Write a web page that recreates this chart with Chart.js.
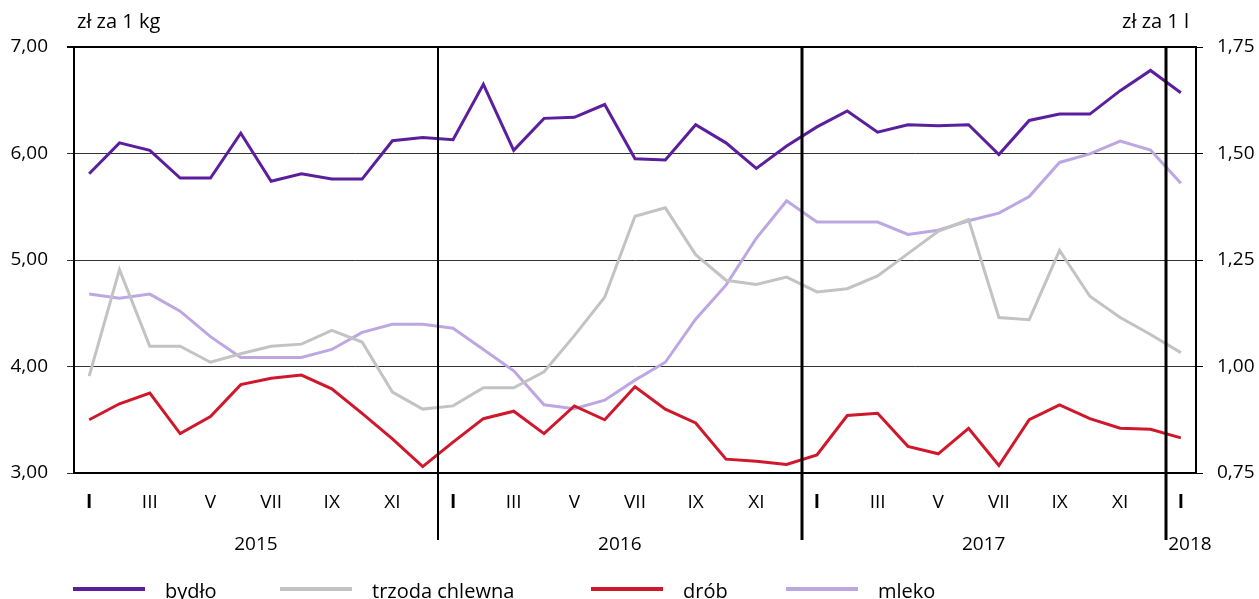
<!DOCTYPE html>
<html lang="pl">
<head>
<meta charset="utf-8">
<title>Ceny skupu</title>
<script src="https://cdn.jsdelivr.net/npm/chart.js@4.4.1/dist/chart.umd.min.js"></script>
<style>
  html, body { margin: 0; padding: 0; background: #fff; }
  canvas { display: block; }
</style>
</head>
<body>
<canvas id="chart" width="1259" height="599"></canvas>
<script>
const monthNames = ['I', 'II', 'III', 'IV', 'V', 'VI', 'VII', 'VIII', 'IX', 'X', 'XI', 'XII'];
const years = ['2015', '2016', '2017', '2018'];
// 36 months 2015-2017 plus January 2018
const categories = [...monthNames, ...monthNames, ...monthNames, 'I'];
const yearTicks = [5.5, 17.5, 29.5, 36.3];
const yearBreaks = [11.5, 23.5, 35.5];

// zł za 1 kg
const bydlo = [5.81, 6.10, 6.03, 5.77, 5.77, 6.19, 5.74, 5.81, 5.76, 5.76, 6.12, 6.15,
               6.13, 6.65, 6.03, 6.33, 6.34, 6.46, 5.95, 5.94, 6.27, 6.10, 5.86, 6.07,
               6.25, 6.40, 6.20, 6.27, 6.26, 6.27, 5.99, 6.31, 6.37, 6.37, 6.59, 6.78,
               6.57];
const trzoda = [3.91, 4.91, 4.19, 4.19, 4.04, 4.12, 4.19, 4.21, 4.34, 4.23, 3.76, 3.60,
                3.63, 3.80, 3.80, 3.95, 4.29, 4.65, 5.41, 5.49, 5.05, 4.81, 4.77, 4.84,
                4.70, 4.73, 4.85, 5.06, 5.27, 5.38, 4.46, 4.44, 5.09, 4.66, 4.46, 4.30,
                4.13];
const drob = [3.50, 3.65, 3.75, 3.37, 3.53, 3.83, 3.89, 3.92, 3.79, 3.56, 3.32, 3.06,
              3.29, 3.51, 3.58, 3.37, 3.63, 3.50, 3.81, 3.60, 3.47, 3.13, 3.11, 3.08,
              3.17, 3.54, 3.56, 3.25, 3.18, 3.42, 3.07, 3.50, 3.64, 3.51, 3.42, 3.41,
              3.33];
// zł za 1 l
const mleko = [1.170, 1.160, 1.170, 1.130, 1.070, 1.021, 1.021, 1.021, 1.040, 1.080, 1.099, 1.099,
               1.090, 1.040, 0.990, 0.910, 0.901, 0.921, 0.968, 1.010, 1.111, 1.191, 1.301, 1.389,
               1.339, 1.339, 1.339, 1.310, 1.320, 1.342, 1.360, 1.399, 1.479, 1.499, 1.529, 1.508,
               1.430];

const FONT = 'Open Sans';
const fmt = v => v.toFixed(2).replace('.', ',');

Chart.defaults.font.family = FONT;
Chart.defaults.font.size = 19;
Chart.defaults.color = '#000';

// year separators, unit titles and the legend
const extras = {
    id: 'extras',
    afterDraw(chart) {
        const ctx = chart.ctx;
        const x = chart.scales.x;
        const area = chart.chartArea;
        ctx.save();

        ctx.strokeStyle = '#000';
        yearBreaks.forEach((b, i) => {
            const px = Math.round(x.getPixelForValue(b));
            ctx.lineWidth = i === 0 ? 2 : 3;
            ctx.beginPath();
            ctx.moveTo(px, area.top);
            ctx.lineTo(px, 540);
            ctx.stroke();
        });

        ctx.fillStyle = '#000';
        ctx.font = `20px "${FONT}"`;
        ctx.textBaseline = 'middle';
        ctx.textAlign = 'left';
        ctx.fillText('zł za 1 kg', 77, 22);
        ctx.textAlign = 'right';
        ctx.fillText('zł za 1 l', 1189, 22);

        const starts = [73, 280, 591, 786];
        ctx.textAlign = 'left';
        ctx.textBaseline = 'alphabetic';
        chart.data.datasets.forEach((ds, i) => {
            const sx = starts[i];
            ctx.strokeStyle = ds.borderColor;
            ctx.lineWidth = 4;
            ctx.beginPath();
            ctx.moveTo(sx, 589);
            ctx.lineTo(sx + 72, 589);
            ctx.stroke();
            ctx.fillStyle = '#000';
            ctx.fillText(ds.label, sx + 92, 598);
        });
        ctx.restore();
    }
};

new Chart(document.getElementById('chart'), {
    type: 'line',
    data: {
        labels: categories,
        datasets: [
            { label: 'bydło', data: bydlo, borderColor: '#5b1f9e', yAxisID: 'y' },
            { label: 'trzoda chlewna', data: trzoda, borderColor: '#c3c3c3', yAxisID: 'y' },
            { label: 'drób', data: drob, borderColor: '#d0182c', yAxisID: 'y' },
            { label: 'mleko', data: mleko, borderColor: '#bda7e3', yAxisID: 'y1' }
        ]
    },
    options: {
        responsive: false,
        animation: false,
        layout: { padding: { top: 47, left: 0, right: 0, bottom: 0 } },
        elements: {
            line: { borderWidth: 3, tension: 0 },
            point: { radius: 0 }
        },
        plugins: {
            legend: { display: false },
            tooltip: { enabled: false }
        },
        scales: {
            x: {
                type: 'category',
                offset: true,
                grid: { display: false },
                border: { color: '#000', width: 2 },
                afterFit: s => { s.height = 45; },
                ticks: {
                    autoSkip: false,
                    maxRotation: 0,
                    padding: 10,
                    font: c => ({
                        family: FONT,
                        size: 19,
                        weight: categories[c.index] === 'I' ? 'bold' : 'normal'
                    }),
                    callback: (v, i) => i % 2 === 0 ? categories[i] : ''
                }
            },
            xYears: {
                type: 'linear',
                position: 'bottom',
                min: -0.5,
                max: 36.5,
                grid: { display: false },
                border: { display: false },
                afterFit: s => { s.height = 81; },
                afterBuildTicks: s => { s.ticks = yearTicks.map(v => ({ value: v })); },
                ticks: {
                    autoSkip: false,
                    maxRotation: 0,
                    padding: 7,
                    callback: (v, i) => years[i]
                }
            },
            y: {
                position: 'left',
                min: 3,
                max: 7,
                afterFit: s => { s.width = 74; },
                border: { color: '#000', width: 2 },
                grid: {
                    color: c => c.tick.value === 7 ? '#000' : '#333',
                    lineWidth: c => c.tick.value === 7 ? 2 : 1,
                    tickLength: 7
                },
                ticks: {
                    stepSize: 1,
                    padding: 19,
                    callback: v => fmt(v)
                }
            },
            y1: {
                position: 'right',
                min: 0.75,
                max: 1.75,
                afterFit: s => { s.width = 63; },
                border: { color: '#000', width: 2 },
                grid: { drawOnChartArea: false, color: '#000', tickLength: 7 },
                ticks: {
                    stepSize: 0.25,
                    padding: 14,
                    callback: v => fmt(v)
                }
            }
        }
    },
    plugins: [extras]
});
</script>
</body>
</html>
